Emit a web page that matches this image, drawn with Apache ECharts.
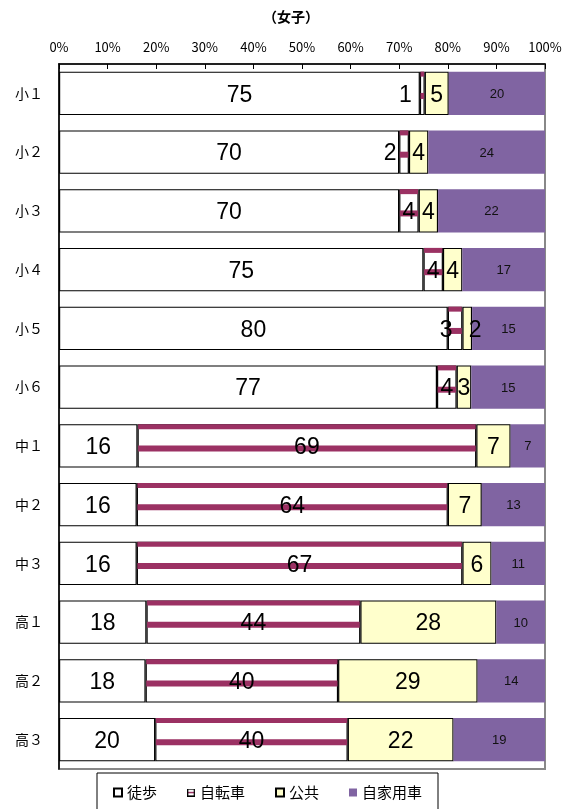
<!DOCTYPE html>
<html><head><meta charset="utf-8">
<script src="https://cdn.jsdelivr.net/npm/echarts@6/dist/echarts.min.js"></script>
<style>html,body{margin:0;padding:0;background:#fff}#c{width:567px;height:809px}</style>
</head><body><div id="c"></div>
<script>
// ---- data (percentages as printed; chart is a 100% stacked bar) ----
const chartTitle = '（女子）';
const categories = ['小１','小２','小３','小４','小５','小６','中１','中２','中３','高１','高２','高３'];
const walk    = [75,70,70,75,80,77,16,16,16,18,18,20];
const bicycle = [1,2,4,4,3,4,69,64,67,44,40,40];
const publicT = [5,4,4,4,2,3,7,7,6,28,29,22];
const car     = [20,24,22,17,15,15,7,13,11,10,14,19];
const seriesNames = ['徒歩','自転車','公共','自家用車'];
const axisMin = 0, axisMax = 100, axisStep = 10;

// 100% stacking: each row is scaled by its total
const rowTotal = categories.map((_,i)=> walk[i]+bicycle[i]+publicT[i]+car[i]);
const pct = (arr)=> arr.map((v,i)=> v*100/rowTotal[i]);
const walkP = pct(walk), bikeP = pct(bicycle), pubP = pct(publicT), carP = pct(car);

// ---- styling ----
const STRIPE = '#9B3163';
const YELLOW = '#FFFFCC';
const PURPLE = '#8064A2';
const GAP = 0.26;
const bigFont = "'Liberation Sans',sans-serif";
const jpFont = "'Noto Sans CJK JP',sans-serif";
// label nudges where overlapping labels were pushed apart (by category index)
const bikeShift = {0:-17, 1:-14, 4:-9};
const pubShift = {4:8};

function stripedIcon(){
  const c = document.createElement('canvas'); c.width = 10; c.height = 10;
  const g = c.getContext('2d');
  g.fillStyle = '#fff'; g.fillRect(0,0,10,10);
  g.fillStyle = STRIPE; g.fillRect(1,4,8,2);
  g.strokeStyle = '#000'; g.lineWidth = 1.5; g.strokeRect(0.75,0.75,8.5,8.5);
  return 'image://' + c.toDataURL();
}

const chart = echarts.init(document.getElementById('c'), null, {renderer:'canvas'});

function rawLabel(raw){ return function(p){ return String(raw[p.dataIndex]); }; }
const bigLabelBase = {show:true, position:'inside', color:'#000', fontSize:23, fontFamily:bigFont, offset:[0,2]};

const bikeData = walkP.map((w,i)=>[w, i, bikeP[i], bicycle[i]]);

const option = {
  backgroundColor:'#fff',
  animation:false,
  title:{text:chartTitle, left:258, top:5, textStyle:{fontSize:14, fontWeight:'bold', fontFamily:jpFont, color:'#000'}},
  legend:{
    data:[
      {name:seriesNames[0], icon:'rect'},
      {name:seriesNames[1], icon:stripedIcon()},
      {name:seriesNames[2], icon:'rect'},
      {name:seriesNames[3], icon:'rect'}
    ],
    left:97, top:773, itemWidth:8, itemHeight:8, itemGap:30,
    padding:[12,16,22,16],
    borderColor:'#000', borderWidth:1,
    textStyle:{fontSize:15, fontFamily:jpFont, color:'#000'},
    selectedMode:false
  },
  grid:{left:59, right:22, top:64, bottom:40, show:true, borderColor:'#888', borderWidth:2, backgroundColor:'transparent'},
  xAxis:{
    type:'value', position:'top', min:axisMin, max:axisMax, interval:axisStep,
    axisLine:{show:true, lineStyle:{color:'#000', width:1.5}},
    axisTick:{show:true, inside:true, length:5, lineStyle:{color:'#000'}},
    axisLabel:{formatter:'{value}%', fontSize:13, fontFamily:jpFont, color:'#000', margin:10},
    splitLine:{show:false}
  },
  yAxis:{
    type:'category', data:categories, inverse:true,
    axisLine:{show:true, lineStyle:{color:'#000', width:1.5}},
    axisTick:{show:false},
    axisLabel:{fontSize:14, fontFamily:jpFont, color:'#000', margin:16}
  },
  series:[
    {name:seriesNames[0], type:'bar', stack:'t', barCategoryGap:(GAP*100)+'%', data:walkP,
     itemStyle:{color:'#fff', borderColor:'#000', borderWidth:1.2},
     label:Object.assign({}, bigLabelBase, {formatter:rawLabel(walk)})},
    {name:seriesNames[1], type:'bar', stack:'t', data:bikeP,
     itemStyle:{color:'#fff', borderColor:'#000', borderWidth:1.2}, label:{show:false}},
    {name:seriesNames[2], type:'bar', stack:'t',
     data:pubP.map((v,i)=> pubShift[i]!==undefined ? {value:v, label:{offset:[pubShift[i],2]}} : v),
     itemStyle:{color:YELLOW, borderColor:'#000', borderWidth:1.2},
     label:Object.assign({}, bigLabelBase, {formatter:rawLabel(publicT)})},
    {name:seriesNames[3], type:'bar', stack:'t', data:carP,
     itemStyle:{color:PURPLE, borderWidth:0},
     label:{show:true, position:'inside', color:'#111', fontSize:13, fontFamily:bigFont, offset:[0,1], formatter:rawLabel(car)}},
    {name:'stripes', type:'custom', z:5, data:bikeData, encode:{x:0, y:1},
     renderItem:function(params, api){
       const s = api.value(0), idx = api.value(1), len = api.value(2), raw = api.value(3);
       const a = api.coord([s, idx]);
       const b = api.coord([Math.min(s+len, axisMax), idx]);
       const band = api.size([0,1])[1];
       const h = band*(1-GAP);
       const top = a[1]-h/2;
       const x0 = a[0]+0.6, w = Math.max(b[0]-a[0]-1.2, 0);
       const shift = bikeShift[idx] || 0;
       return {type:'group', children:[
         {type:'rect', shape:{x:x0, y:top, width:w, height:5}, style:{fill:STRIPE}},
         {type:'rect', shape:{x:x0, y:top+h*0.49, width:w, height:6}, style:{fill:STRIPE}},
         {type:'text', x:(a[0]+b[0])/2+shift, y:a[1]+2, style:{text:String(raw), align:'center', verticalAlign:'middle',
           fontSize:23, fontFamily:bigFont, fill:'#000'}}
       ]};
     }}
  ]
};
chart.setOption(option);
</script></body></html>
